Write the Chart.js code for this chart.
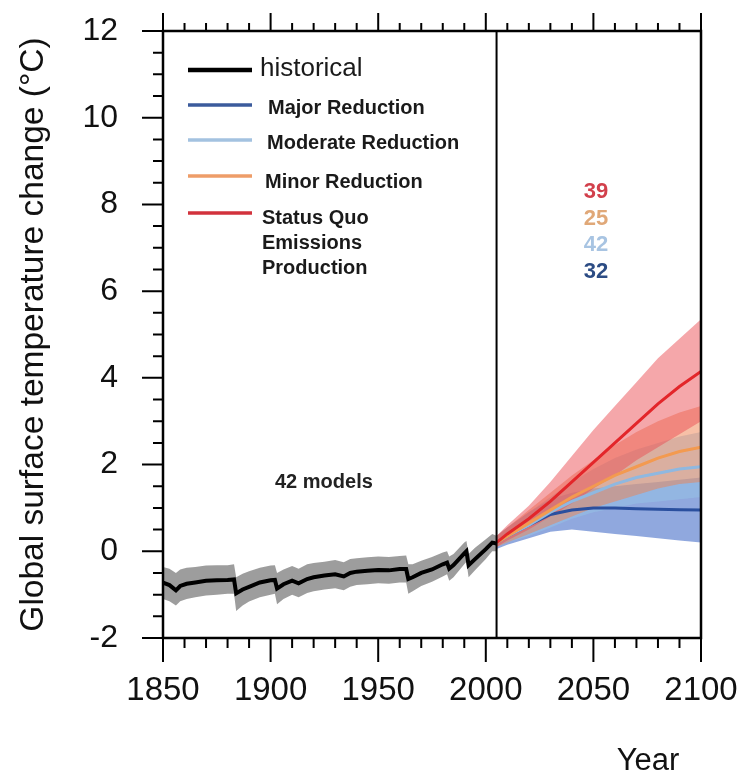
<!DOCTYPE html>
<html>
<head>
<meta charset="utf-8">
<script src="https://cdn.jsdelivr.net/npm/chart.js@4.4.1/dist/chart.umd.min.js"></script>
<style>
  html, body { margin: 0; padding: 0; background: #fff; }
  #wrap { width: 743px; height: 778px; }
</style>
</head>
<body>
<div id="wrap"><canvas id="tempChart" width="743" height="778"></canvas></div>
<script>
// historical run (1850-2005): ensemble mean and spread
const histYears = [1850, 1853, 1856, 1858, 1861, 1865, 1870, 1875, 1880, 1883, 1884, 1887, 1890, 1895,
    1900, 1902, 1903, 1906, 1910, 1913, 1917, 1920, 1925, 1930, 1934, 1937, 1940, 1945, 1950, 1955,
    1960, 1963, 1964, 1966, 1970, 1975, 1980, 1982, 1983, 1985, 1990, 1991, 1992, 1995, 2000, 2003, 2005];
const histMean = [-0.72, -0.78, -0.9, -0.8, -0.75, -0.72, -0.68, -0.67, -0.66, -0.65, -0.97, -0.88, -0.82, -0.72,
    -0.67, -0.66, -0.86, -0.76, -0.68, -0.74, -0.64, -0.6, -0.56, -0.53, -0.58, -0.5, -0.47, -0.45, -0.43, -0.44,
    -0.41, -0.41, -0.64, -0.6, -0.5, -0.42, -0.3, -0.26, -0.4, -0.32, -0.05, 0.0, -0.32, -0.18, 0.05, 0.2, 0.18];
const histHigh = [-0.36, -0.4, -0.5, -0.42, -0.38, -0.36, -0.33, -0.32, -0.32, -0.3, -0.6, -0.52, -0.46, -0.38,
    -0.33, -0.32, -0.5, -0.42, -0.34, -0.4, -0.3, -0.27, -0.24, -0.2, -0.25, -0.18, -0.16, -0.14, -0.12, -0.13,
    -0.11, -0.1, -0.3, -0.3, -0.22, -0.13, -0.03, 0.0, -0.12, -0.06, 0.2, 0.24, -0.06, 0.08, 0.28, 0.4, 0.36];
const histLow = [-1.1, -1.15, -1.25, -1.15, -1.1, -1.06, -1.02, -1.0, -0.98, -0.98, -1.38, -1.25, -1.16, -1.06,
    -1.0, -0.98, -1.22, -1.1, -1.0, -1.06, -0.96, -0.92, -0.88, -0.85, -0.9, -0.82, -0.78, -0.76, -0.74, -0.75,
    -0.72, -0.72, -0.98, -0.92, -0.8, -0.7, -0.58, -0.53, -0.68, -0.6, -0.3, -0.24, -0.6, -0.44, -0.18, 0.0, 0.0];

// scenario projections (2005-2100)
const projYears = [2005, 2010, 2020, 2030, 2040, 2050, 2060, 2070, 2080, 2090, 2100];
const majorMean = [0.2, 0.35, 0.6, 0.85, 0.95, 1.0, 1.0, 0.98, 0.97, 0.96, 0.95];
const majorHigh = [0.35, 0.55, 0.9, 1.2, 1.35, 1.45, 1.5, 1.55, 1.6, 1.65, 1.7];
const majorLow = [0.05, 0.15, 0.3, 0.45, 0.5, 0.45, 0.4, 0.35, 0.3, 0.25, 0.2];
const moderateMean = [0.2, 0.35, 0.6, 0.9, 1.15, 1.35, 1.55, 1.7, 1.8, 1.9, 1.95];
const moderateHigh = [0.35, 0.55, 0.9, 1.25, 1.6, 1.9, 2.15, 2.35, 2.5, 2.65, 2.75];
const moderateLow = [0.1, 0.2, 0.35, 0.55, 0.75, 0.9, 1.0, 1.1, 1.15, 1.2, 1.25];
const minorMean = [0.2, 0.35, 0.65, 0.95, 1.25, 1.5, 1.75, 1.95, 2.15, 2.3, 2.4];
const minorHigh = [0.35, 0.55, 0.95, 1.35, 1.75, 2.1, 2.45, 2.75, 3.0, 3.2, 3.35];
const minorLow = [0.1, 0.2, 0.4, 0.6, 0.8, 1.0, 1.15, 1.3, 1.45, 1.55, 1.6];
const statusMean = [0.2, 0.4, 0.75, 1.15, 1.6, 2.05, 2.5, 2.95, 3.4, 3.8, 4.15];
const statusHigh = [0.35, 0.6, 1.05, 1.6, 2.2, 2.8, 3.35, 3.9, 4.45, 4.9, 5.35];
const statusLow = [0.1, 0.25, 0.5, 0.8, 1.1, 1.45, 1.75, 2.1, 2.4, 2.7, 3.0];

const modelCounts = ['39', '25', '42', '32'];
const yTicks = [-2, 0, 2, 4, 6, 8, 10, 12];
const xTicks = [1850, 1900, 1950, 2000, 2050, 2100];
const splitYear = 2005;

const FONT = '"Liberation Sans", Arial, Helvetica, sans-serif';

const pts = (xs, ys) => xs.map((x, i) => ({ x: x, y: ys[i] }));

function band(xs, hi, lo, color, order) {
    return [
        { data: pts(xs, hi), borderWidth: 0, pointRadius: 0, backgroundColor: color, fill: '+1', order: order },
        { data: pts(xs, lo), borderWidth: 0, pointRadius: 0, fill: false, order: order }
    ];
}
function line(xs, ys, color, width, order) {
    return { data: pts(xs, ys), borderColor: color, borderWidth: width, pointRadius: 0, fill: false, order: order };
}

// frame, tick marks, divider line and text annotations
const decorations = {
    id: 'decorations',
    afterDatasetsDraw(chart) {
        const { ctx, chartArea: a, scales: { x, y } } = chart;
        ctx.save();
        ctx.strokeStyle = '#000';
        ctx.lineWidth = 2;
        const xs = x.getPixelForValue(splitYear);
        ctx.beginPath();
        ctx.moveTo(xs, a.top);
        ctx.lineTo(xs, a.bottom);
        ctx.stroke();

        ctx.lineWidth = 2.5;
        ctx.strokeRect(a.left, a.top, a.right - a.left, a.bottom - a.top);

        ctx.lineWidth = 2;
        ctx.beginPath();
        for (let v = -2; v <= 12; v += 0.5) {
            const p = y.getPixelForValue(v);
            const len = Number.isInteger(v / 2) ? 21 : 10;
            ctx.moveTo(a.left - len, p);
            ctx.lineTo(a.left, p);
        }
        for (let yr = 1850; yr <= 2100; yr += 10) {
            const p = x.getPixelForValue(yr);
            const major = yr % 50 === 0;
            ctx.moveTo(p, a.bottom);
            ctx.lineTo(p, a.bottom + (major ? 24 : 10));
            ctx.moveTo(p, a.top);
            ctx.lineTo(p, a.top - (major ? 18 : 8));
        }
        ctx.stroke();
        ctx.restore();
    },
    afterDraw(chart) {
        const { ctx } = chart;
        ctx.save();
        ctx.textBaseline = 'middle';
        ctx.textAlign = 'left';

        // legend
        const items = [
            { color: '#000000', y: 70, width: 4.5, text: ['historical'], tx: 260, ty: 69, font: '26px ' + FONT },
            { color: '#3b5b9c', y: 105, width: 3.5, text: ['Major Reduction'], tx: 268, ty: 108, font: 'bold 20px ' + FONT },
            { color: '#a3c2e0', y: 140, width: 3.5, text: ['Moderate Reduction'], tx: 267, ty: 143, font: 'bold 20px ' + FONT },
            { color: '#ee9d68', y: 176, width: 3.5, text: ['Minor Reduction'], tx: 265, ty: 182, font: 'bold 20px ' + FONT },
            { color: '#d2323c', y: 213, width: 3.5, text: ['Status Quo', 'Emissions', 'Production'], tx: 262, ty: 218, font: 'bold 20px ' + FONT }
        ];
        items.forEach(it => {
            ctx.strokeStyle = it.color;
            ctx.lineWidth = it.width;
            ctx.beginPath();
            ctx.moveTo(188, it.y);
            ctx.lineTo(252, it.y);
            ctx.stroke();
            ctx.fillStyle = '#1a1a1a';
            ctx.font = it.font;
            it.text.forEach((t, i) => ctx.fillText(t, it.tx, it.ty + i * 25));
        });

        ctx.font = 'bold 20px ' + FONT;
        ctx.fillStyle = '#222';
        ctx.fillText('42 models', 275, 482);

        // model counts per scenario
        const countColors = ['#d2404c', '#e0a878', '#a8c4e2', '#2c4c84'];
        ctx.textAlign = 'center';
        ctx.font = 'bold 22px ' + FONT;
        modelCounts.forEach((c, i) => {
            ctx.fillStyle = countColors[i];
            ctx.fillText(c, 596, 192 + i * 26.7);
        });

        ctx.fillStyle = '#111';
        ctx.font = '31px ' + FONT;
        ctx.fillText('Year', 648, 761);
        ctx.restore();
    }
};

const datasets = [
    ...band(histYears, histHigh, histLow, 'rgba(140,140,140,0.85)', 20),
    ...band(projYears, majorHigh, majorLow, 'rgba(70,110,200,0.6)', 19),
    ...band(projYears, moderateHigh, moderateLow, 'rgba(150,195,230,0.55)', 18),
    ...band(projYears, minorHigh, minorLow, 'rgba(240,130,80,0.5)', 17),
    ...band(projYears, statusHigh, statusLow, 'rgba(235,80,85,0.5)', 16),
    line(histYears, histMean, '#000000', 4, 4),
    line(projYears, majorMean, '#2a4f9e', 3, 3),
    line(projYears, moderateMean, '#8fb8e0', 3, 2),
    line(projYears, minorMean, '#f39a50', 3, 1),
    line(projYears, statusMean, '#e3262a', 3, 0)
];

new Chart(document.getElementById('tempChart'), {
    type: 'line',
    data: { datasets: datasets },
    plugins: [decorations],
    options: {
        responsive: false,
        devicePixelRatio: 1,
        animation: false,
        layout: { padding: { top: 31, right: 42, bottom: 0, left: 0 } },
        plugins: { legend: { display: false }, tooltip: { enabled: false } },
        elements: { line: { tension: 0 } },
        scales: {
            x: {
                type: 'linear',
                min: 1850,
                max: 2100,
                afterBuildTicks: s => { s.ticks = xTicks.map(v => ({ value: v })); },
                afterFit: s => { s.height = 140; s.paddingLeft = 0; s.paddingRight = 0; },
                grid: { display: false, drawTicks: false },
                border: { display: false },
                ticks: { color: '#111', padding: 33, maxRotation: 0, callback: v => String(v), font: { family: FONT, size: 33 } }
            },
            y: {
                min: -2,
                max: 12,
                afterBuildTicks: s => { s.ticks = yTicks.map(v => ({ value: v })); },
                afterFit: s => { s.width = 163; s.paddingTop = 0; s.paddingBottom = 0; },
                grid: { display: false, drawTicks: false },
                border: { display: false },
                ticks: { color: '#111', padding: 45, callback: v => String(v), font: { family: FONT, size: 32 } },
                title: {
                    display: true,
                    text: 'Global surface temperature change (\u00B0C)',
                    color: '#111',
                    padding: { top: 14, bottom: 0 },
                    font: { family: FONT, size: 33.5 }
                }
            }
        }
    }
});
</script>
</body>
</html>
